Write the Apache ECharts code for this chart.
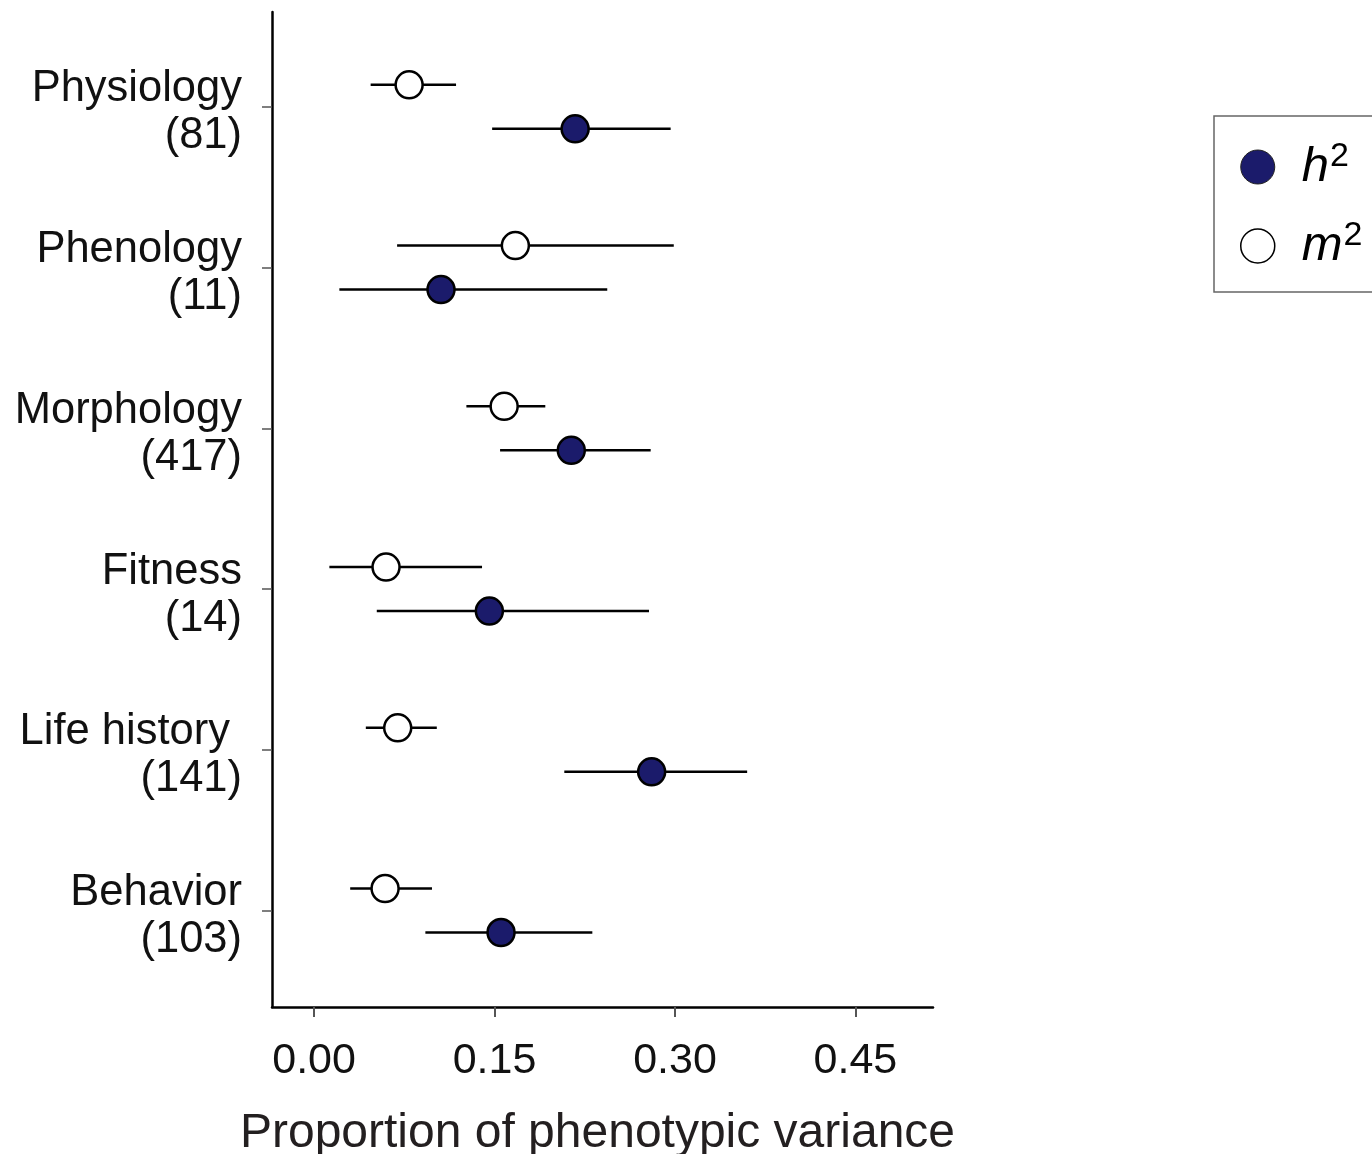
<!DOCTYPE html>
<html>
<head>
<meta charset="utf-8">
<script src="https://cdn.jsdelivr.net/npm/echarts@6/dist/echarts.min.js"></script>
<style>
  html, body { margin: 0; padding: 0; background: #fff; }
  #chart { width: 1372px; height: 1154px; }
</style>
</head>
<body>
<div id="chart"></div>
<script>
// trait groups, top to bottom, with number of estimates
var traitNames = ['Physiology', 'Phenology', 'Morphology', 'Fitness', 'Life history ', 'Behavior'];
var traitCounts = [81, 11, 417, 14, 141, 103];

// h2 (heritability) mean and interval
var h2Mean = [0.217, 0.1055, 0.2138, 0.1457, 0.2806, 0.1554];
var h2Low  = [0.148, 0.021, 0.1546, 0.0521, 0.208, 0.0925];
var h2High = [0.2964, 0.2437, 0.2798, 0.2784, 0.360, 0.2313];

// m2 (maternal effects) mean and interval
var m2Mean = [0.079, 0.1673, 0.158, 0.0598, 0.0695, 0.059];
var m2Low  = [0.047, 0.069, 0.1266, 0.0127, 0.043, 0.030];
var m2High = [0.118, 0.299, 0.1922, 0.1396, 0.102, 0.098];

var xTicks = [0, 0.15, 0.30, 0.45];

var navy = '#1b1b6b';
var font = 'Liberation Sans, Arial, sans-serif';
var n = traitNames.length;
// row position on the y value axis (top row highest)
function rowPos(i) { return n - 1 - i; }
var rowTicks = traitNames.map(function (d, i) { return rowPos(i); });

function points(mean) {
  return mean.map(function (v, i) { return [v, rowPos(i)]; });
}
function bars(low, high) {
  return low.map(function (v, i) { return [v, high[i], rowPos(i)]; });
}

// error bar drawn with a pixel shift so both groups sit around the tick
function errorBar(shift) {
  return function (params, api) {
    var a = api.coord([api.value(0), api.value(2)]);
    var b = api.coord([api.value(1), api.value(2)]);
    return {
      type: 'line',
      shape: { x1: a[0], y1: a[1] + shift, x2: b[0], y2: b[1] + shift },
      style: { stroke: '#000', lineWidth: 2.5 }
    };
  };
}

var chart = echarts.init(document.getElementById('chart'));

var option = {
  animation: false,
  backgroundColor: '#fff',
  textStyle: { fontFamily: font },
  grid: { left: 272, right: 439, top: 12, bottom: 147, outerBoundsMode: 'none' },
  xAxis: {
    type: 'value',
    min: -0.035,
    max: 0.5145,
    name: 'Proportion of phenotypic variance',
    nameLocation: 'middle',
    nameGap: 103,
    nameTextStyle: { fontSize: 48, color: '#231f20', fontFamily: font, padding: [0, 10, 0, 0] },
    axisLine: { show: true, onZero: false, lineStyle: { color: '#000', width: 2.5 } },
    axisTick: { show: true, customValues: xTicks, length: 10, lineStyle: { color: '#555', width: 2 } },
    axisLabel: {
      customValues: xTicks,
      fontSize: 43,
      color: '#111',
      margin: 33,
      formatter: function (v) { return v.toFixed(2); }
    },
    splitLine: { show: false }
  },
  yAxis: {
    type: 'value',
    min: -0.6,
    max: 5.59,
    axisLine: { show: true, onZero: false, lineStyle: { color: '#000', width: 2.5 } },
    axisTick: { show: true, customValues: rowTicks, length: 10, lineStyle: { color: '#555', width: 1.5 } },
    axisLabel: {
      customValues: rowTicks,
      color: '#111',
      margin: 30,
      align: 'right',
      formatter: function (v) {
        var i = n - 1 - Math.round(v);
        return '{a|' + traitNames[i] + '}\n{b|(' + traitCounts[i] + ')}';
      },
      rich: {
        a: { fontSize: 43.5, lineHeight: 47, color: '#111', padding: [12, 0, 0, 0], align: 'right', fontFamily: font },
        b: { fontSize: 43.5, lineHeight: 47, color: '#111', padding: [12, 0, 0, 0], align: 'right', fontFamily: font }
      }
    },
    splitLine: { show: false }
  },
  legend: {
    orient: 'vertical',
    left: 1214,
    top: 116,
    padding: [24, 60, 19, 26],
    borderColor: '#666',
    borderWidth: 1.5,
    itemWidth: 34,
    itemHeight: 34,
    itemGap: 25,
    data: [
      { name: 'h2', itemStyle: { color: navy, borderColor: '#222', borderWidth: 1 } },
      { name: 'm2', itemStyle: { color: '#fff', borderColor: '#000', borderWidth: 1.5 } }
    ],
    formatter: function (name) {
      return '{v|' + name.charAt(0) + '}{s|2}';
    },
    textStyle: {
      padding: [0, 0, 0, 22],
      rich: {
        v: { fontSize: 49, fontStyle: 'italic', color: '#000', lineHeight: 50, fontFamily: font },
        s: { fontSize: 34, color: '#000', lineHeight: 50, padding: [0, 0, 20, 1], fontFamily: font }
      }
    }
  },
  series: [
    {
      name: 'm2 interval',
      type: 'custom',
      renderItem: errorBar(-22),
      data: bars(m2Low, m2High),
      z: 2,
      silent: true
    },
    {
      name: 'h2 interval',
      type: 'custom',
      renderItem: errorBar(22),
      data: bars(h2Low, h2High),
      z: 2,
      silent: true
    },
    {
      name: 'h2',
      type: 'scatter',
      symbol: 'circle',
      symbolSize: 27,
      symbolOffset: [0, 22],
      itemStyle: { color: navy, borderColor: '#000', borderWidth: 2.5, opacity: 1 },
      data: points(h2Mean),
      z: 5
    },
    {
      name: 'm2',
      type: 'scatter',
      symbol: 'circle',
      symbolSize: 27,
      symbolOffset: [0, -22],
      itemStyle: { color: '#fff', borderColor: '#000', borderWidth: 2.5, opacity: 1 },
      data: points(m2Mean),
      z: 5
    }
  ]
};

chart.setOption(option);
</script>
</body>
</html>
